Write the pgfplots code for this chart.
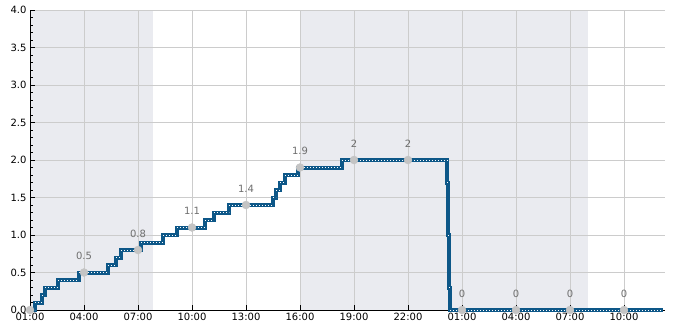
\documentclass[border=0pt]{standalone}
\usepackage{fontspec}
\setmainfont{DejaVu Sans}
\usepackage{pgfplots}
\pgfplotsset{compat=1.18}
\definecolor{rainblue}{HTML}{0D5788}
\definecolor{nightbg}{HTML}{EAEBF0}
\definecolor{gridgray}{HTML}{CCCCCC}
\definecolor{markgray}{HTML}{C4C4C4}
\definecolor{labelgray}{HTML}{6E6E6E}
\pgfplotstableread{
x y
1.111 0.0
1.278 0.1
1.667 0.2
1.833 0.3
2.556 0.4
3.722 0.5
5.333 0.6
5.778 0.7
6.056 0.8
7.167 0.9
8.389 1.0
9.167 1.1
10.722 1.2
11.222 1.3
12.056 1.4
14.500 1.5
14.667 1.6
14.889 1.7
15.167 1.8
15.900 1.9
18.333 2.0
24.194 1.7
24.250 1.0
24.306 0.3
24.361 0.0
36.167 0.0
}\raintable
\begin{document}
\begin{tikzpicture}
\begin{axis}[
  set layers,
  scale only axis, width=635pt, height=300pt,
  xmin=1, xmax=36.28, ymin=0, ymax=4,
  axis lines*=left,
  axis line style={black, line width=0.8pt},
  tick align=inside,
  xtick={1,4,...,34},
  xticklabels={01:00,04:00,07:00,10:00,13:00,16:00,19:00,22:00,01:00,04:00,07:00,10:00},
  ytick={0,0.5,...,4},
  minor y tick num=4,
  yticklabel style={/pgf/number format/.cd,fixed,fixed zerofill,precision=1},
  /pgf/number format/assume math mode=true,
  tick label style={font=\fontsize{10}{12}\selectfont, black},
  grid=major,
  major grid style={gridgray, line width=0.8pt},
  major tick length=5pt, minor tick length=3pt,
  tick style={black, line width=0.8pt},
  clip=false,
]
\addplot[fill=nightbg, draw=none, on layer=axis background] coordinates {(1,0) (7.83,0) (7.83,4) (1,4)};
\addplot[fill=nightbg, draw=none, on layer=axis background] coordinates {(16.06,0) (32.0,0) (32.0,4) (16.06,4)};
\addplot[const plot, rainblue, line width=4pt] table[x=x,y=y] {\raintable};
\addplot[jump mark left, white, line width=0.6pt, dash pattern=on 0.8pt off 2.2pt] table[x=x,y=y] {\raintable};
\addplot[only marks, mark=*, mark size=4pt, markgray] coordinates {(1,0)};
\addplot[only marks, mark=*, mark size=4pt, markgray,
  point meta=explicit symbolic, nodes near coords,
  every node near coord/.append style={labelgray, font=\fontsize{10}{12}\selectfont, anchor=south, yshift=9pt}]
  coordinates {(4,0.5) [0.5] (7,0.8) [0.8] (10,1.1) [1.1] (13,1.4) [1.4] (16,1.9) [1.9] (19,2) [2] (22,2) [2] (25,0) [0] (28,0) [0] (31,0) [0] (34,0) [0]};
\end{axis}
\pgfresetboundingbox
\path[use as bounding box] (-30pt,-20pt) rectangle (655pt,310pt);
\end{tikzpicture}
\end{document}
